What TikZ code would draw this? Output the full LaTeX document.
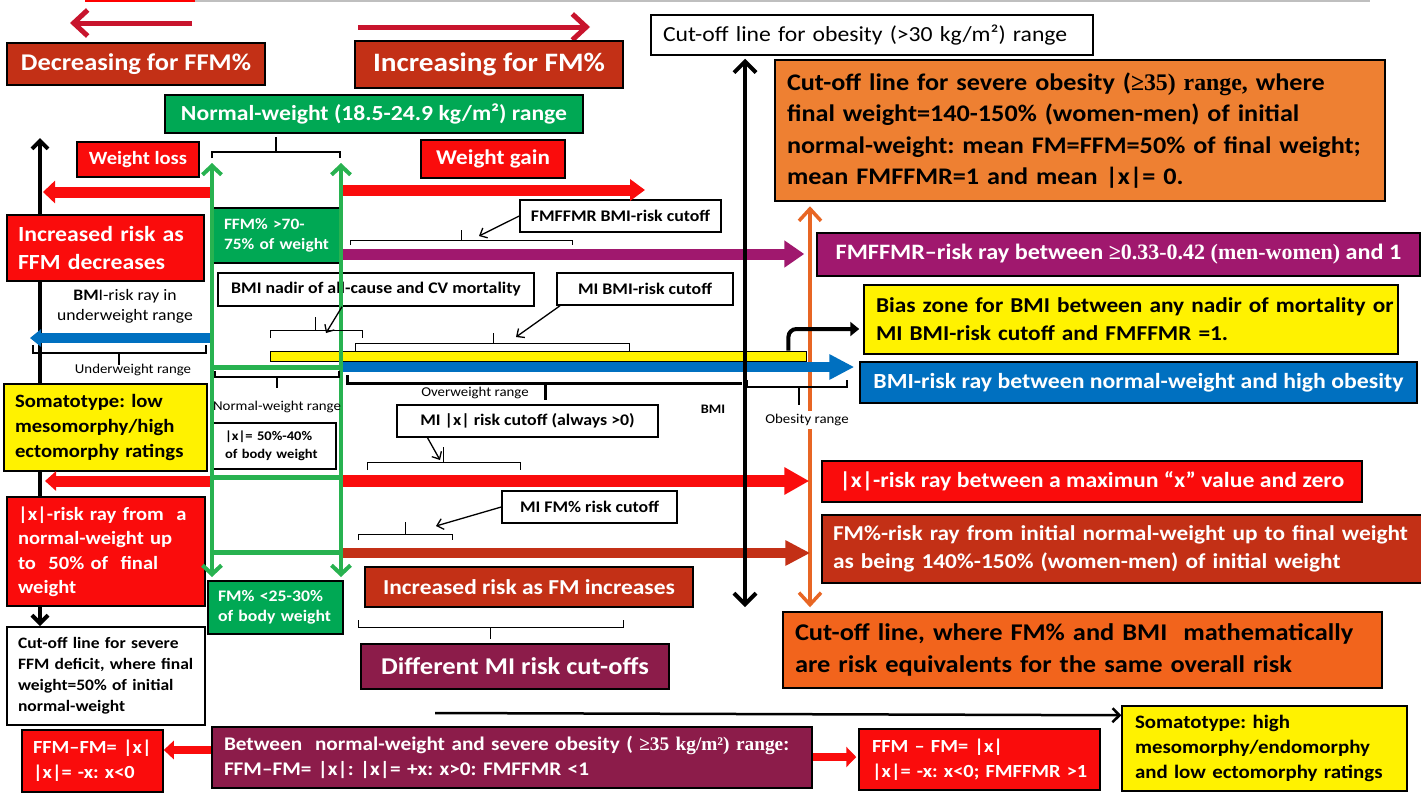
\documentclass[tikz,border=0pt]{standalone}
\usepackage{fontspec}
\setmainfont{Carlito}[FakeStretch=1.1]
\newfontfamily\serif{Liberation Serif}
\usetikzlibrary{arrows.meta}

\definecolor{brick}{RGB}{195,48,22}
\definecolor{boxred}{RGB}{250,12,12}
\definecolor{boxgreen}{RGB}{0,168,84}
\definecolor{linegreen}{RGB}{40,178,80}
\definecolor{boxpurple}{RGB}{160,24,110}
\definecolor{boxmaroon}{RGB}{140,28,74}
\definecolor{boxorange}{RGB}{238,128,50}
\definecolor{deeporange}{RGB}{242,100,28}
\definecolor{lineorange}{RGB}{232,102,36}
\definecolor{boxblue}{RGB}{0,112,192}
\definecolor{crimson}{RGB}{200,20,45}

\newcommand{\fs}[2]{\fontsize{#1}{#2}\selectfont\bfseries}
\frenchspacing

\begin{document}
\begin{tikzpicture}[x=1pt, y=-1pt,
    box/.style={draw=black, line width=1.5pt, inner sep=0pt, align=center},
    lbox/.style={box, align=left},
    white box/.style={box, fill=white, text=black, font=\fs{16.2}{19}},
    ray/.style={line width=11pt},
    rangelabel/.style={font=\fontsize{13.5}{16}\selectfont, inner sep=1pt},
    brace/.style={line width=1pt},
    pointer/.style={line width=1.3pt, -{Straight Barb[length=6pt,width=11pt]}},
    greenarrow/.style={linegreen, line width=4pt,
      {Straight Barb[length=9pt,width=19pt]}-{Straight Barb[length=9pt,width=19pt]}},
  ]
  \useasboundingbox (0,0) rectangle (1421,793);

  % top rule and direction arrows
  \draw[gray!50, line width=1.5pt] (85,1) -- (1370,1);
  \draw[red, line width=2pt] (85,1) -- (195,1);
  \draw[crimson, line width=5pt, -{Straight Barb[length=14pt,width=26pt]}] (192,23) -- (70,23);
  \draw[crimson, line width=5pt, -{Straight Barb[length=14pt,width=26pt]}] (358,27) -- (590,27);

  % left black axis (under the boxes)
  \coordinate (leftTop) at (40,138);
  \coordinate (leftBot) at (40,626);
  \draw[line width=4pt, {Straight Barb[length=8pt,width=16pt]}-{Straight Barb[length=8pt,width=16pt]}] (leftTop) -- (leftBot);

  % boxes
  \node[box, fill=brick, text=white, font=\fs{24}{28}, minimum width=258, minimum height=42] (decFFM) at (136,64) {Decreasing for FFM\%};
  \node[box, fill=brick, text=white, font=\fs{26.6}{30}, minimum width=268, minimum height=47] (incFM) at (489,64.5) {Increasing for FM\%};
  \node[box, fill=boxgreen, text=white, font=\fs{21.5}{24}, minimum width=418, minimum height=38] (normal) at (374,114) {Normal-weight (18.5-24.9 kg/m²) range};
  \node[box, fill=boxred, text=white, font=\fs{18.7}{22}, minimum width=122, minimum height=35] (wloss) at (138,159.5) {Weight loss};
  \node[box, fill=boxred, text=white, font=\fs{21}{24}, minimum width=144, minimum height=38] (wgain) at (493,159) {Weight gain};
  \node[lbox, fill=boxgreen, text=white, font=\fs{15.8}{19.5}, minimum width=130, minimum height=55, text width=106pt] (ffmpct) at (277,235.5)
    {\mbox{FFM\% >70-}\\\mbox{75\% of weight}};
  \node[lbox, fill=boxred, text=white, font=\fs{21.6}{28}, minimum width=197, minimum height=66, text width=175pt] (incFFM) at (105.5,248)
    {\mbox{Increased risk as}\\\mbox{FFM decreases}};
  \node[white box, minimum width=201, minimum height=32] (fmffmrcut) at (620.5,216) {FMFFMR BMI-risk cutoff};
  \node[lbox, fill=white, font=\fontsize{21.5}{26}\selectfont, minimum width=442, minimum height=40, text width=418pt] (obesecut) at (872,35)
    {\mbox{Cut-off line for obesity (>30 kg/m²) range}};
  \node[lbox, fill=boxorange, font=\fs{23.8}{31.5}, line width=2.5pt, minimum width=610, minimum height=141, text width=586pt] (sevob) at (1080,130.5)
    {\mbox{Cut-off line for severe obesity ({\serif ≥35) range,} where}\\\mbox{final weight=140-150\% (women-men) of initial}\\
     \mbox{normal-weight: mean FM=FFM=50\% of final weight;}\\\mbox{mean FMFFMR=1 and mean |x|= 0.}};
  \node[box, fill=boxpurple, text=white, font=\fs{22}{24}, minimum width=603, minimum height=43] (fmffmrray) at (1118.5,254.5)
    {FMFFMR–risk ray between {\serif ≥0.33-0.42 (men-women)} and 1};
  \node[lbox, fill=yellow, font=\fs{21.2}{28}, minimum width=534, minimum height=69, text width=510pt] (bias) at (1131,319.5)
    {\mbox{Bias zone for BMI between any nadir of mortality or}\\\mbox{MI BMI-risk cutoff and FMFFMR =1.}};
  \node[box, fill=boxblue, text=white, font=\fs{21.6}{24}, minimum width=557, minimum height=41] (bmiray) at (1138.5,382.5)
    {BMI-risk ray between normal-weight and high obesity};
  \node[box, fill=boxred, text=white, font=\fs{21.6}{24}, minimum width=540, minimum height=41] (xray) at (1092,481.5)
    {|x|-risk ray between a maximun “x” value and zero};
  \node[lbox, fill=brick, text=white, font=\fs{21.2}{28}, minimum width=600, minimum height=68, text width=578pt] (fmray) at (1122,549)
    {\mbox{FM\%-risk ray from initial normal-weight up to final weight}\\\mbox{as being 140\%-150\% (women-men) of initial weight}};
  \node[lbox, fill=deeporange, font=\fs{24}{32}, minimum width=599, minimum height=76, text width=575pt] (cutequiv) at (1082.5,650)
    {\mbox{Cut-off line, where FM\% and BMI\ \ mathematically}\\\mbox{are risk equivalents for the same overall risk}};
  \node[lbox, fill=yellow, font=\fs{19}{25}, minimum width=285, minimum height=85, text width=259pt] (somahigh) at (1264.5,748.5)
    {\mbox{Somatotype: high}\\\mbox{mesomorphy/endomorphy}\\\mbox{and low ectomorphy ratings}};
  \node[lbox, fill=boxred, text=white, font=\fs{18.5}{25}, minimum width=241, minimum height=61, text width=215pt] (ffmright) at (979.5,759.5)
    {\mbox{FFM – FM= |x|}\\\mbox{|x|= -x: x<0; FMFFMR >1}};
  \node[lbox, fill=boxmaroon, text=white, font=\fs{19.3}{25}, minimum width=600, minimum height=61, text width=576pt] (between) at (512,757.5)
    {\mbox{Between\ \ normal-weight and severe obesity ( {\serif ≥35 kg/m²) range}:}\\\mbox{FFM–FM= |x|: |x|= +x: x>0: FMFFMR <1}};
  \node[lbox, fill=boxred, text=white, font=\fs{18.5}{25}, minimum width=141, minimum height=62, text width=119pt] (ffmleft) at (92.5,761)
    {\mbox{FFM–FM= |x|}\\\mbox{|x|= -x: x<0}};
  \node[lbox, fill=white, font=\fs{15.9}{21}, minimum width=198, minimum height=98, text width=176pt] (ffmdef) at (106,676)
    {\mbox{Cut-off line for severe}\\\mbox{FFM deficit, where final}\\\mbox{weight=50\% of initial}\\\mbox{normal-weight}};
  \node[lbox, fill=boxred, text=white, font=\fs{18.7}{24.5}, minimum width=198, minimum height=109, text width=176pt] (xfrom) at (106,551.5)
    {\mbox{|x|-risk ray from\ \ a}\\\mbox{normal-weight up}\\\mbox{to\ \ 50\% of\ \ final}\\\mbox{weight}};
  \node[lbox, fill=boxgreen, text=white, font=\fs{16.1}{20}, minimum width=135, minimum height=53, text width=115pt] (fmless) at (275.5,607.5)
    {\mbox{FM\% <25-30\%}\\\mbox{of body weight}};
  \node[box, fill=brick, text=white, font=\fs{21.3}{24}, minimum width=328, minimum height=40] (incFMrisk) at (529,587) {Increased risk as FM increases};
  \node[box, fill=boxmaroon, text=white, font=\fs{24.1}{28}, line width=2.5pt, minimum width=308, minimum height=45] (diffMI) at (515,666.5) {Different MI risk cut-offs};
  \node[white box, minimum width=316, minimum height=33] (nadir) at (376,289.5) {BMI nadir of all-cause and CV mortality};
  \node[white box, minimum width=176, minimum height=32] (mibmi) at (645,289) {MI BMI-risk cutoff};
  \node[white box, minimum width=261, minimum height=32] (mix) at (527.5,421) {MI |x| risk cutoff (always >0)};
  \node[white box, minimum width=175, minimum height=32] (mifm) at (589.5,507) {MI FM\% risk cutoff};
  \node[lbox, fill=white, font=\fs{13.2}{18}, minimum width=123, minimum height=46, text width=99pt] (xbody) at (274.5,446)
    {\mbox{|x|= 50\%-40\%}\\\mbox{of body weight}};
  \node[lbox, fill=yellow, font=\fs{18.8}{25}, minimum width=203, minimum height=87, text width=181pt] (somalow) at (105.5,427.5)
    {\mbox{Somatotype: low}\\\mbox{mesomorphy/high}\\\mbox{ectomorphy ratings}};
  \node[align=center, inner sep=0pt, font=\fontsize{16}{20}\selectfont] (bmiunder) at (125,306) {{\bfseries BM}I-risk ray in\\underweight range};

  % orange cut-off line
  \draw[lineorange, line width=3.5pt, {Straight Barb[length=12pt,width=22pt]}-{Straight Barb[length=12pt,width=22pt]},
    shorten <=4pt, shorten >=4pt] (sevob.south -| 810,0) -- (cutequiv.north -| 810,0);

  % risk rays
  \draw[ray, boxred, -{Triangle[length=12pt,width=22pt]}] (210,192) -- (43,192);
  \draw[ray, boxred, -{Triangle[length=15pt,width=21pt]}] (343,190) -- (645,190);
  \draw[ray, boxpurple, -{Triangle[length=20pt,width=26pt]}, shorten >=12pt] (343,254) -- (fmffmrray.west |- 0,254);
  \draw[ray, line width=10pt, boxblue, -{Triangle[length=11pt,width=17pt]}] (210,338) -- (30,338);
  \draw[ray, line width=10pt, boxblue, -{Triangle[length=25pt,width=24pt]}, shorten >=5pt] (343,367) -- (bmiray.west |- 0,367);
  \draw[ray, boxred, -{Triangle[length=11pt,width=19pt]}] (210,481) -- (45,481);
  \draw[ray, line width=12pt, boxred, -{Triangle[length=25pt,width=26pt]}, shorten >=12pt] (343,481) -- (xray.west |- 0,481);
  \draw[ray, line width=10pt, brick, -{Triangle[length=25pt,width=24pt]}, shorten >=11pt] (343,553) -- (fmray.west |- 0,553);

  % bias zone bar
  \node[draw=black, line width=0.8pt, fill=yellow, inner sep=0pt, minimum width=536, minimum height=10] (ybar) at (538,356) {};
  \draw[line width=4pt, rounded corners=8pt, -{Triangle[length=9pt,width=14pt]}]
    ([xshift=-18pt]ybar.north east) |- ([yshift=-9.5pt,xshift=-4pt]bias.west);

  % obesity cut-off line
  \draw[line width=4pt, {Straight Barb[length=11pt,width=22pt]}-{Straight Barb[length=11pt,width=22pt]}, shorten <=3pt]
    (obesecut.south -| 745,0) -- (745,607);

  % normal-weight column
  \draw[greenarrow] (212,163) -- (212,577);
  \draw[greenarrow] (341,163) -- (341,577);
  \draw[linegreen, line width=5pt] (212,367) -- (341,367);
  \draw[linegreen, line width=5pt] (212,477) -- (341,477);
  \draw[linegreen, line width=5pt] (212,552) -- (341,552);

  % brackets
  \draw[brace, line width=1.8pt] (212,158) |- (340,152) -- (340,158);
  \draw[brace, line width=1.8pt] (276,152) -- (276,137);
  \draw[brace] (350,245) |- (572,240) -- (572,245);
  \draw[brace] (461,240) -- (461,230);
  \draw[brace] (270,338) |- (362,330) -- (362,338);
  \draw[brace] (315,330) -- (315,317);
  \draw[brace] (355,351) |- (629,343) -- (629,351);
  \draw[brace] (493,343) -- (493,333);
  \draw[brace] (367,470) |- (520,462) -- (520,470);
  \draw[brace] (443,462) -- (443,447);
  \draw[brace] (358,540) |- (452,534) -- (452,540);
  \draw[brace] (405,534) -- (405,522);
  \draw[brace] (358,620) |- (623,627) -- (623,620);
  \draw[brace] (490,627) -- (490,639);
  \draw[brace, line width=2pt] (33,345) |- (206,353) -- (206,345);
  \draw[brace, line width=2pt] (119,353) -- (119,365);
  \draw[brace, line width=2pt] (215,371) |- (339,377) -- (339,371);
  \draw[brace, line width=2pt] (277,377) -- (277,388);
  \draw[brace, line width=3pt] (347,375) |- (742,383);
  \draw[brace, line width=3pt] (545,383) -- (545,400);
  \draw[brace, line width=2.5pt] (747,380) |- (847,387) -- (847,380);
  \draw[brace, line width=2.5pt] (799,387) -- (799,405);

  % pointers to the cutoffs
  \coordinate (fmffmrTip) at (479,236);
  \coordinate (nadirTip) at (326,333);
  \coordinate (mibmiTip) at (516,337);
  \coordinate (mixTip) at (440,460);
  \coordinate (mifmTip) at (436,526);
  \draw[pointer] (fmffmrcut.west) -- (fmffmrTip);
  \draw[pointer] ([xshift=-34pt]nadir.south) -- (nadirTip);
  \draw[pointer] ([xshift=-85pt]mibmi.south) -- (mibmiTip);
  \draw[pointer] ([xshift=-100pt]mix.south) -- (mixTip);
  \draw[pointer] (mifm.west) -- (mifmTip);

  % range labels
  \node[rangelabel] (underlbl) at (133,370) {Underweight range};
  \node[rangelabel] (normlbl) at (277,407) {Normal-weight range};
  \node[rangelabel] (overlbl) at (475,393) {Overweight range};
  \node[rangelabel, fill=white, inner sep=3pt, font=\fontsize{13.5}{16}\selectfont] (obeselbl) at (807,420) {Obesity range};
  \node[rangelabel, font=\fontsize{13}{15}\selectfont\bfseries] (bmilbl) at (713,409) {BMI};

  % bottom connectors
  \coordinate (botL) at (0,750);
  \coordinate (botR) at (0,757);
  \coordinate (somaStart) at (435,713);
  \draw[boxred, line width=8pt, -{Triangle[length=10pt,width=18pt]}] (between.west |- botL) -- (ffmleft.east |- botL);
  \draw[boxred, line width=8pt, -{Triangle[length=10pt,width=20pt]}, shorten >=2pt] (between.east |- botR) -- (ffmright.west |- botR);
  \draw[line width=2.5pt, -{Straight Barb[length=7pt,width=14pt]}] (somaStart) -- ([yshift=-10pt]somahigh.north west);
\end{tikzpicture}
\end{document}
